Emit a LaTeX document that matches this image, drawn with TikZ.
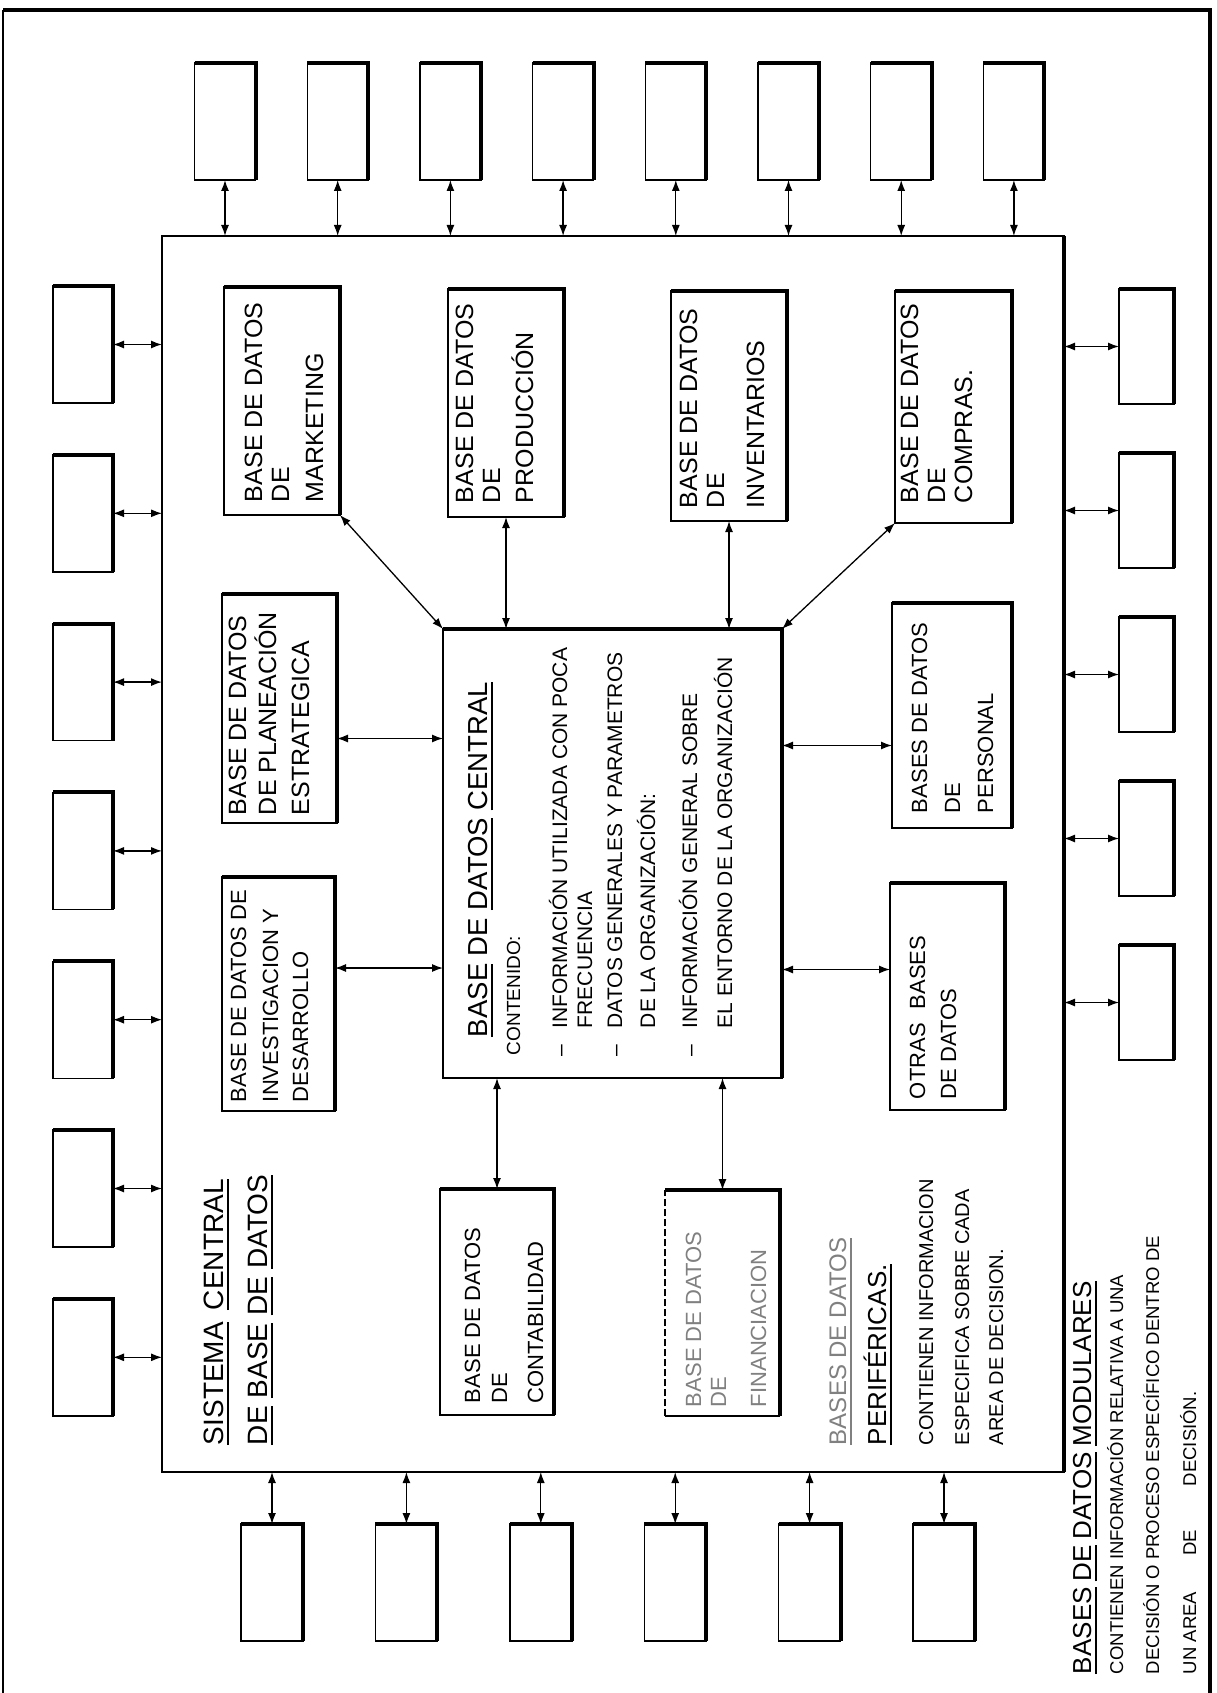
\documentclass[tikz,border=0pt]{standalone}
\usepackage{fontspec}
\setmainfont{Liberation Sans}
\usetikzlibrary{arrows.meta}
% underline drawn as a rule of fixed thickness
\newcommand\undl[1]{\setbox0=\hbox{#1}\rlap{\rule[-6pt]{\wd0}{2.2pt}}\box0\relax}
% database box: thin outline with a heavy top and right edge
\newcommand\dbbox[5]{%
  \node[frame, minimum width=#4, minimum height=#5] (#1) at (#2,#3) {};
  \draw[heavy] (#1.north west) -- (#1.north east) -- (#1.south east);}
\begin{document}
\begin{tikzpicture}[x=1pt,y=-1pt,
  frame/.style={draw, line width=1.4pt, inner sep=0pt, outer sep=0pt},
  heavy/.style={line width=4pt, line join=miter},
  link/.style={line width=1.3pt, {Latex[length=11pt,width=8pt]}-{Latex[length=11pt,width=8pt]}},
  txt/.style={rotate=90, anchor=base west, inner sep=0pt, outer sep=0pt},
  fA/.style={font=\fontsize{25}{30}\selectfont},
  fB/.style={font=\fontsize{22}{26}\selectfont},
  fC/.style={font=\fontsize{21}{25}\selectfont},
  fD/.style={font=\fontsize{19}{23}\selectfont},
  fE/.style={font=\fontsize{28}{32}\selectfont},
  faded/.style={text=black!50}]
\useasboundingbox (0,0) rectangle (1216,1693);
\fill[white] (0,0) rectangle (1216,1693);

% page border
\draw[line width=2pt] (3,1693) -- (3,10);
\draw[line width=4.5pt] (3,10) -- (1210,10) -- (1210,1693);

% central system frame
\node[frame, line width=1.8pt, minimum width=902, minimum height=1236] (main) at (613,854) {};
\draw[line width=4pt] (main.north east) -- (main.south east);

% modular databases around the frame
\foreach \i in {0,...,7}{
  \pgfmathsetmacro\cx{225+112.7*\i}
  \dbbox{t\i}{\cx}{121.5}{61}{117}
  \draw[link] (t\i.south) -- (t\i.south |- main.north);
}
\foreach \i in {0,...,6}{
  \pgfmathsetmacro\cy{344.5+168.8*\i}
  \dbbox{l\i}{83}{\cy}{60}{117}
  \draw[link] (l\i.east) -- (l\i.east -| main.west);
}
\foreach \i in {0,...,4}{
  \pgfmathsetmacro\cy{346.5+164*\i}
  \dbbox{r\i}{1146.5}{\cy}{55}{115}
  \draw[link] (main.east |- r\i.west) -- (r\i.west);
}
\foreach \i in {0,...,5}{
  \pgfmathsetmacro\cx{272+134.4*\i}
  \dbbox{b\i}{\cx}{1582.5}{62}{117}
  \draw[link] (main.south -| b\i.north) -- (b\i.north);
}

% peripheral databases
\dbbox{mkt}{282}{401}{116}{228}
\dbbox{pro}{506}{403}{116}{228}
\dbbox{inv}{729}{406}{116}{230}
\dbbox{com}{953.5}{407}{117}{232}
\dbbox{pla}{279.5}{708.5}{115}{229}
\dbbox{ind}{278.5}{994}{113}{234}
\dbbox{cen}{612.5}{853.5}{339}{449}
\dbbox{per}{952}{715.5}{120}{225}
\dbbox{otr}{947.5}{996.5}{115}{227}
\dbbox{con}{497}{1302}{114}{226}
\node[inner sep=0pt, outer sep=0pt, minimum width=115, minimum height=226] (fin) at (722.5,1303) {};
\draw[line width=1.4pt] (fin.south west) -- (fin.south east);
\draw[line width=1.2pt, dash pattern=on 7pt off 3pt] (fin.south west) -- (fin.north west);
\draw[heavy] (fin.north west) -- (fin.north east) -- (fin.south east);

% links to the central database
\draw[link] (mkt.south east) -- (cen.north west);
\draw[link] (pro.south) -- (pro.south |- cen.north);
\draw[link] (inv.south) -- (inv.south |- cen.north);
\draw[link] (com.south west) -- (cen.north east);
\coordinate (pa) at ([yshift=-30pt]pla.east);
\draw[link] (pa) -- (pa -| cen.west);
\coordinate (ia) at ([yshift=26pt]ind.east);
\draw[link] (ia) -- (ia -| cen.west);
\coordinate (ea) at ([yshift=-30pt]per.west);
\draw[link] (ea -| cen.east) -- (ea);
\coordinate (oa) at ([yshift=27pt]otr.west);
\draw[link] (oa -| cen.east) -- (oa);
\draw[link] (con.north |- cen.south) -- (con.north);
\draw[link] (fin.north |- cen.south) -- (fin.north);

% box labels
\begin{scope}[every node/.append style={txt, fA}]
\node (mk1) at (262,502) {BASE DE DATOS};
\node (mk2) at (289,502) {DE};
\node (mk3) at (323,502) {MARKETING};
\node (pr1) at (473,503) {BASE DE DATOS};
\node (pr2) at (500,503) {DE};
\node (pr3) at (533,503) {PRODUCCIÓN};
\node (in1) at (697,508) {BASE DE DATOS};
\node (in2) at (724,508) {DE};
\node (in3) at (764,508) {INVENTARIOS};
\node (co1) at (918,503) {BASE DE DATOS};
\node (co2) at (945,503) {DE};
\node (co3) at (972,503) {COMPRAS.};
\node (pl1) at (246,815) {BASE DE DATOS};
\node (pl2) at (276,815) {DE PLANEACIÓN};
\node (pl3) at (309,815) {ESTRATEGICA};
\end{scope}
\begin{scope}[every node/.append style={txt, fB}]
\node (id1) at (246,1102) {BASE DE DATOS DE};
\node (id2) at (278,1102) {INVESTIGACION Y};
\node (id3) at (308,1102) {DESARROLLO};
\node (pe1) at (927,813) {BASES DE DATOS};
\node (pe2) at (960,813) {DE};
\node (pe3) at (993,813) {PERSONAL};
\node (ot1) at (925,1099) {OTRAS\hspace{14pt}BASES};
\node (ot2) at (956,1099) {DE DATOS};
\node (cb1) at (480,1403) {BASE DE DATOS};
\node (cb2) at (507,1403) {DE};
\node (cb3) at (543,1403) {CONTABILIDAD};
\node[faded] (fi1) at (701,1407) {BASE DE DATOS};
\node[faded] (fi2) at (726,1407) {DE};
\node[faded] (fi3) at (766,1407) {FINANCIACION};
\end{scope}

% central database contents
\node[txt, font=\fontsize{27.5}{32}\selectfont] (ct0) at (487,1037)
  {\undl{BASE} DE \undl{DATOS} \undl{CENTRAL}};
\node[txt, fD] (ct1) at (520,1055) {CONTENIDO:};
\begin{scope}[every node/.append style={txt, fC}]
\node (ct2) at (567,1056) {–\hspace{16pt}INFORMACIÓN UTILIZADA CON POCA};
\node (ct3) at (592,1028) {FRECUENCIA};
\node (ct4) at (622,1056) {–\hspace{16pt}DATOS GENERALES Y PARAMETROS};
\node (ct5) at (655,1028) {DE LA ORGANIZACIÓN:};
\node (ct6) at (697,1056) {–\hspace{16pt}INFORMACIÓN GENERAL SOBRE};
\node (ct7) at (732,1028) {EL ENTORNO DE LA ORGANIZACIÓN};
\end{scope}

% titles and notes
\node[txt, fE] (sc1) at (223,1445) {\undl{SISTEMA}\hspace{12pt}\undl{CENTRAL}};
\node[txt, fE] (sc2) at (267,1445) {\undl{DE}\hspace{8pt}\undl{BASE}\hspace{8pt}\undl{DE}\hspace{8pt}\undl{DATOS}};

\node[txt, faded, font=\fontsize{24}{28}\selectfont] (pf1) at (846,1445) {\undl{BASES DE DATOS}};
\node[txt, font=\fontsize{26}{30}\selectfont] (pf2) at (886,1445) {\undl{PERIFÉRICAS.}};
\begin{scope}[every node/.append style={txt, font=\fontsize{20}{24}\selectfont}]
\node (pf3) at (933,1445) {CONTIENEN INFORMACION};
\node (pf4) at (969,1445) {ESPECIFICA SOBRE CADA};
\node (pf5) at (1003,1445) {AREA DE DECISION.};
\end{scope}

\node[txt, font=\fontsize{26}{30}\selectfont] (md1) at (1091,1674)
  {\undl{BASES}\hspace{6pt}\undl{DE}\hspace{6pt}\undl{DATOS}\hspace{6pt}\undl{MODULARES}};
\begin{scope}[every node/.append style={txt, font=\fontsize{18.5}{22}\selectfont}]
\node (md2) at (1123,1674) {CONTIENEN INFORMACIÓN RELATIVA A UNA};
\node (md3) at (1159,1674) {DECISIÓN O PROCESO ESPECÍFICO DENTRO DE};
\node (md4) at (1196,1674) {UN AREA\hspace{36pt}DE\hspace{44pt}DECISIÓN.};
\end{scope}
\end{tikzpicture}
\end{document}
